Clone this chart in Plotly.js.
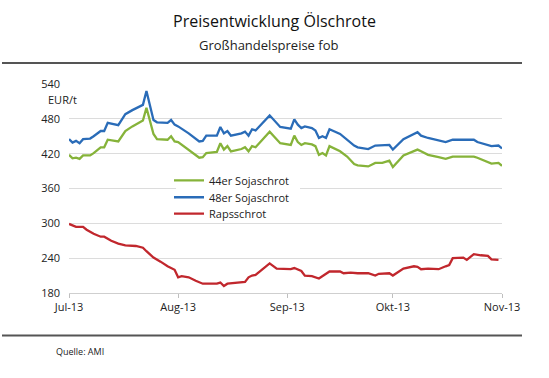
<!DOCTYPE html>
<html><head><meta charset="utf-8">
<script src="https://cdn.plot.ly/plotly-3.0.1.min.js"></script>
<style>html,body{margin:0;padding:0;background:#fff;}#chart{width:549px;height:378px;}</style>
</head><body><div id="chart"></div>
<script>
// Soy meal dates (shared by 44er and 48er)
const soyDates = ["2013-07-01","2013-07-02","2013-07-03","2013-07-04","2013-07-05","2013-07-07","2013-07-08","2013-07-10","2013-07-11","2013-07-12","2013-07-15","2013-07-17","2013-07-19","2013-07-22","2013-07-23","2013-07-24","2013-07-25","2013-07-26","2013-07-29","2013-07-30","2013-07-31","2013-08-01","2013-08-04","2013-08-07","2013-08-08","2013-08-09","2013-08-12","2013-08-13","2013-08-14","2013-08-15","2013-08-16","2013-08-19","2013-08-20","2013-08-21","2013-08-22","2013-08-23","2013-08-27","2013-08-30","2013-09-02","2013-09-03","2013-09-04","2013-09-05","2013-09-06","2013-09-08","2013-09-09","2013-09-10","2013-09-11","2013-09-12","2013-09-13","2013-09-16","2013-09-18","2013-09-20","2013-09-21","2013-09-24","2013-09-26","2013-09-28","2013-09-30","2013-10-01","2013-10-04","2013-10-08","2013-10-09","2013-10-11","2013-10-14","2013-10-16","2013-10-18","2013-10-24","2013-10-25","2013-10-27","2013-10-29","2013-10-31","2013-11-01"];
const soy44 = [418,412,413,411,417,417,421,431,431,444,441,459,467,477,499,475,454,445,444,450,441,440,427,413,414,421,423,438,427,433,424,428,431,424,433,431,458,438,435,451,440,435,438,436,433,418,421,417,433,424,415,402,400,398,404,404,408,397,417,427,424,418,414,411,415,415,413,408,403,404,399];
const soy48 = [445,439,442,438,445,446,450,459,459,473,469,488,495,504,528,501,478,474,473,478,470,467,455,441,442,451,451,466,455,459,451,455,458,451,462,460,486,466,463,479,470,464,467,464,460,447,450,447,462,454,444,434,431,428,434,434,435,427,445,457,451,447,443,440,444,444,440,437,433,434,429];
// Rapeseed meal
const rapsDates = ["2013-07-01","2013-07-02","2013-07-03","2013-07-05","2013-07-06","2013-07-08","2013-07-10","2013-07-11","2013-07-13","2013-07-15","2013-07-17","2013-07-20","2013-07-22","2013-07-23","2013-07-25","2013-07-27","2013-07-29","2013-07-31","2013-08-01","2013-08-02","2013-08-04","2013-08-06","2013-08-08","2013-08-12","2013-08-13","2013-08-14","2013-08-15","2013-08-20","2013-08-21","2013-08-22","2013-08-23","2013-08-27","2013-08-29","2013-09-02","2013-09-03","2013-09-05","2013-09-06","2013-09-08","2013-09-10","2013-09-13","2013-09-16","2013-09-17","2013-09-19","2013-09-21","2013-09-24","2013-09-26","2013-09-27","2013-09-30","2013-10-01","2013-10-04","2013-10-07","2013-10-08","2013-10-09","2013-10-11","2013-10-14","2013-10-16","2013-10-17","2013-10-18","2013-10-21","2013-10-22","2013-10-24","2013-10-26","2013-10-28","2013-10-29","2013-10-30","2013-10-31"];
const raps = [299,297,294,294,289,282,277,277,270,265,262,261,258,252,241,234,226,220,207,209,207,201,196,196,198,192,196,199,207,210,211,231,222,221,223,218,210,209,205,217,217,214,215,214,214,210,213,214,210,222,226,225,221,222,221,226,228,240,241,237,247,245,244,238,237,237];
const seriesNames = ["44er Sojaschrot","48er Sojaschrot","Rapsschrot"];
const tickDates = ["2013-07-01","2013-08-01","2013-09-01","2013-10-01","2013-11-01"];
const tickLabels = ["Jul-13","Aug-13","Sep-13","Okt-13","Nov-13"];
const yTicks = [180,240,300,360,420,480,540];

const font = "Open Sans, DejaVu Sans, sans-serif";
const traces = [
  {x: soyDates, y: soy44, name: seriesNames[0], type: "scatter", mode: "lines", line: {color: "#86b33a", width: 2.3}, legend: "legend"},
  {x: soyDates, y: soy48, name: seriesNames[1], type: "scatter", mode: "lines", line: {color: "#2a6cb8", width: 2.3}, legend: "legend2"},
  {x: rapsDates, y: raps, name: seriesNames[2], type: "scatter", mode: "lines", line: {color: "#c1272d", width: 2.3}, legend: "legend3"}
];
function leg(centerY) {
  return {x: (169-69)/433, y: (293.5-(centerY-14))/209.5, xanchor: "left", yanchor: "top", bgcolor: "rgba(0,0,0,0)", borderwidth: 0, font: {family: font, size: 11, color: "#222"}};
}
const layout = {
  width: 549, height: 378,
  margin: {l: 69, r: 47, t: 84, b: 84.5},
  paper_bgcolor: "#fff", plot_bgcolor: "#fff",
  font: {family: font, color: "#222", size: 11},
  title: {text: "Preisentwicklung Ölschrote", x: 0.5, xanchor: "center", xref: "container", yref: "container", y: 1 - 21/378, yanchor: "middle", font: {family: font, size: 16, color: "#111"}},
  showlegend: true,
  legend: leg(180), legend2: leg(197), legend3: leg(213.5),
  xaxis: {type: "date", range: ["2013-07-01","2013-11-01"], tickvals: tickDates, ticktext: tickLabels, showgrid: false, showline: true, linecolor: "#cfcfcf", linewidth: 1, ticks: "outside", ticklen: 4, tickcolor: "#bfbfbf", tickfont: {size: 11, color: "#222"}, zeroline: false, fixedrange: true},
  yaxis: {range: [180, 540], tickvals: yTicks, showgrid: true, gridcolor: "#dcdcdc", gridwidth: 1, zeroline: false, showline: false, ticks: "", ticklabelstandoff: 8, tickfont: {size: 11, color: "#222"}, fixedrange: true},
  shapes: [
    {type: "rect", xref: "paper", yref: "paper", layer: "above", x0: (176-69)/433, x1: (300-69)/433, y0: (293.5-172)/209.5, y1: (293.5-221)/209.5, fillcolor: "#fff", line: {width: 0}},
    {type: "line", xref: "paper", yref: "paper", x0: (2-69)/433, x1: (522-69)/433, y0: (293.5-63)/209.5, y1: (293.5-63)/209.5, line: {color: "#555", width: 2}},
    {type: "line", xref: "paper", yref: "paper", x0: (2-69)/433, x1: (522-69)/433, y0: (293.5-336)/209.5, y1: (293.5-336)/209.5, line: {color: "#555", width: 2}}
  ],
  annotations: [
    {text: "Großhandelspreise fob", xref: "paper", yref: "paper", x: (268.5-69)/433, y: (293.5-45)/209.5, xanchor: "center", yanchor: "middle", showarrow: false, font: {family: font, size: 13, color: "#222"}},
    {text: "EUR/t", xref: "paper", yref: "paper", x: (46-69)/433, y: (293.5-100)/209.5, xanchor: "left", yanchor: "middle", showarrow: false, font: {family: font, size: 11, color: "#222"}},
    {text: "Quelle: AMI", xref: "paper", yref: "paper", x: (54-69)/433, y: (293.5-352)/209.5, xanchor: "left", yanchor: "middle", showarrow: false, font: {family: font, size: 9, color: "#222"}}
  ]
};
Plotly.newPlot("chart", traces, layout, {displayModeBar: false, staticPlot: true});
</script></body></html>
